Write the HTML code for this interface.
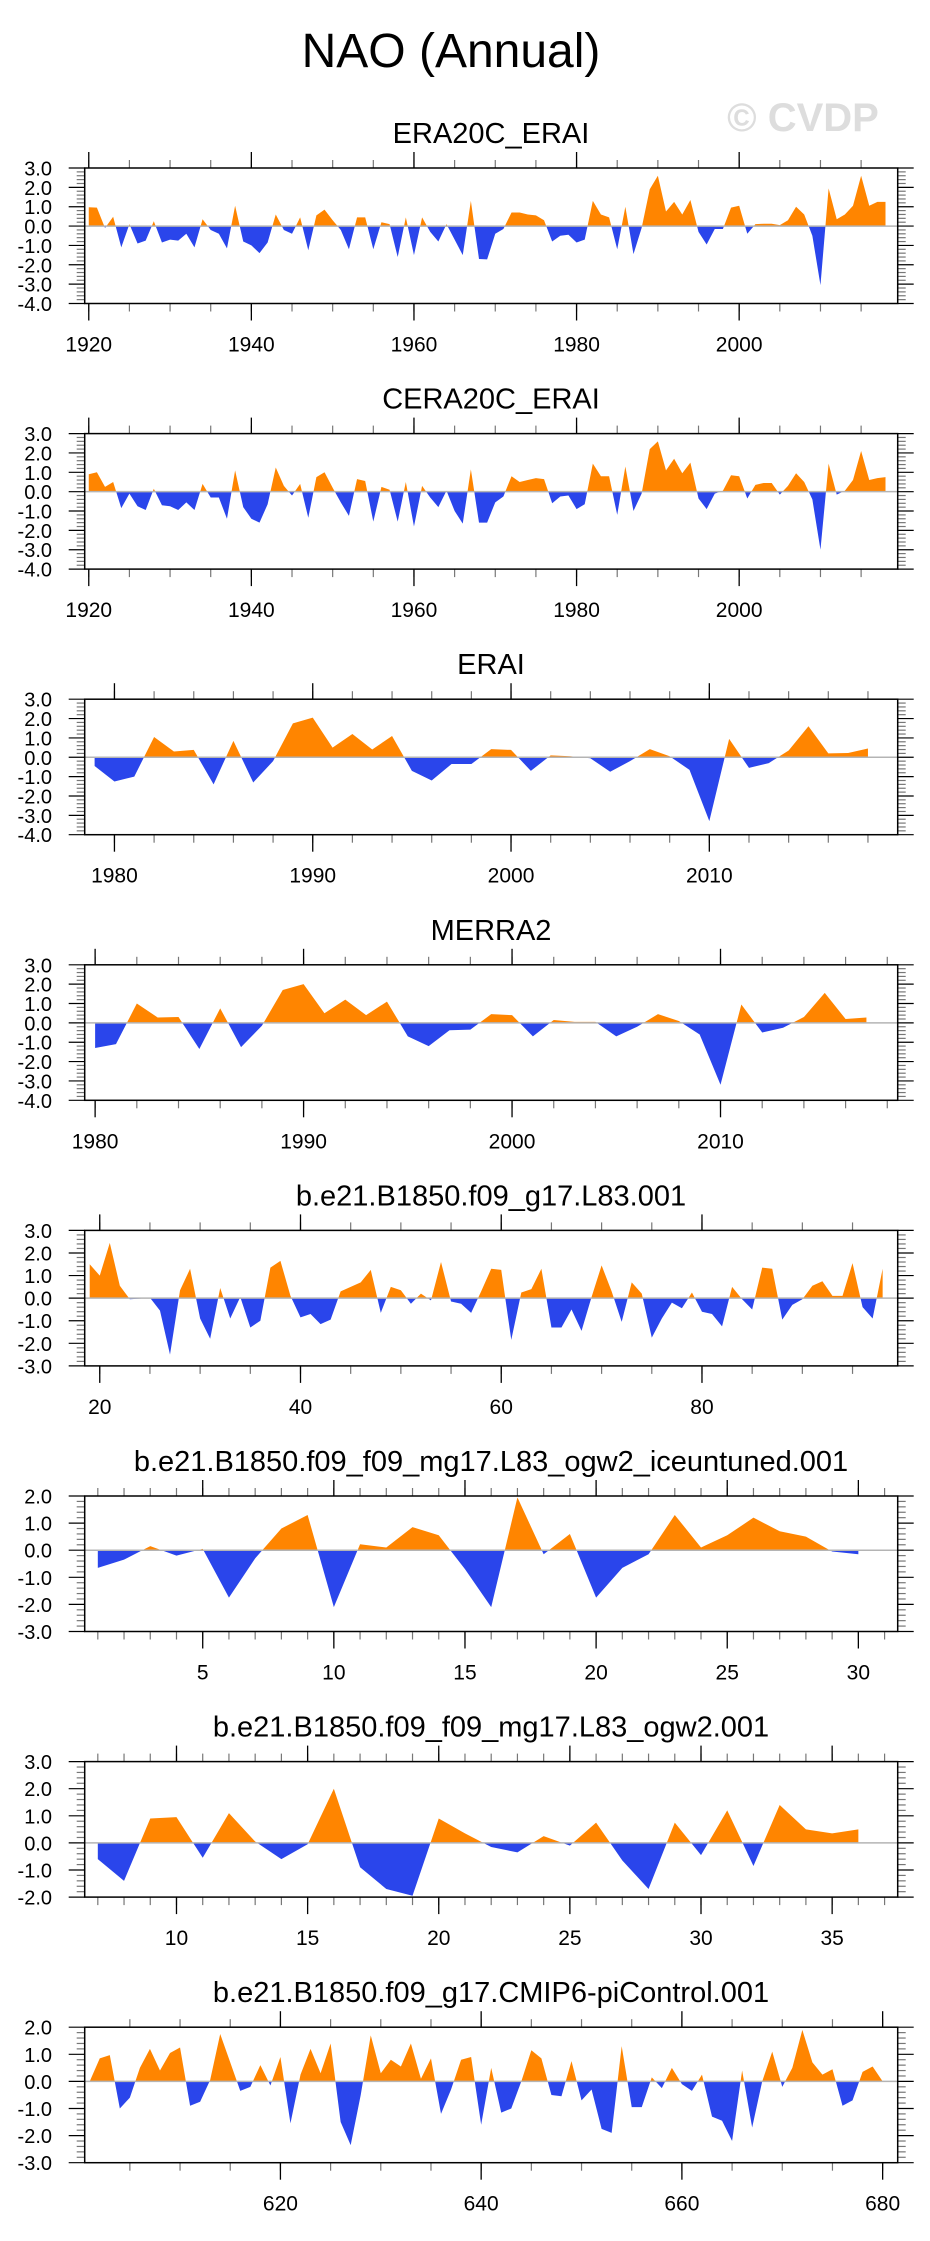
<!DOCTYPE html>
<html>
<head>
<meta charset="utf-8">
<style>
  html,body{margin:0;padding:0;background:#fff;}
  body{width:930px;height:2241px;overflow:hidden;}
  svg{display:block;}
  text{font-family:"Liberation Sans", Arial, sans-serif;}
</style>
</head>
<body>
<svg id="chart" width="930" height="2241" viewBox="0 0 930 2241" xmlns="http://www.w3.org/2000/svg">
  <text x="451" y="67" font-size="48" text-anchor="middle" fill="#000">NAO (Annual)</text>
  <text x="803" y="131" font-size="40" font-weight="bold" text-anchor="middle" fill="#dddddd">© CVDP</text>
</svg>
<script>
// ---- data ----
const panelTitles = ["ERA20C_ERAI","CERA20C_ERAI","ERAI","MERRA2","b.e21.B1850.f09_g17.L83.001","b.e21.B1850.f09_f09_mg17.L83_ogw2_iceuntuned.001","b.e21.B1850.f09_f09_mg17.L83_ogw2.001","b.e21.B1850.f09_g17.CMIP6-piControl.001"];
const panelStarts = [1920,1920,1979,1980,19,1,7,601];
const era20cValues = [0.97,0.95,-0.1,0.48,-1.1,0.1,-0.9,-0.75,0.25,-0.85,-0.7,-0.75,-0.4,-1.1,0.35,-0.2,-0.4,-1.15,1.05,-0.8,-1.0,-1.4,-0.85,0.6,-0.2,-0.4,0.45,-1.25,0.55,0.85,0.3,-0.2,-1.2,0.45,0.45,-1.2,0.2,0.1,-1.6,0.45,-1.5,0.45,-0.3,-0.8,0.1,-0.7,-1.5,1.3,-1.7,-1.72,-0.4,-0.15,0.7,0.7,0.6,0.55,0.3,-0.8,-0.5,-0.45,-0.85,-0.7,1.3,0.6,0.45,-1.2,1.0,-1.45,-0.1,1.9,2.6,0.75,1.25,0.6,1.35,-0.3,-0.95,-0.15,-0.15,0.95,1.05,-0.4,0.1,0.12,0.12,0.05,0.3,1.0,0.6,-0.5,-3.05,1.95,0.35,0.6,1.05,2.6,1.05,1.25,1.25];
const cera20cValues = [0.9,1.0,0.25,0.5,-0.85,-0.1,-0.75,-0.95,0.15,-0.7,-0.75,-0.95,-0.55,-0.95,0.4,-0.3,-0.3,-1.4,1.1,-0.8,-1.4,-1.6,-0.65,1.25,0.3,-0.2,0.4,-1.35,0.75,1.0,0.2,-0.55,-1.25,0.65,0.55,-1.55,0.25,0.1,-1.55,0.5,-1.8,0.3,-0.3,-0.8,0.05,-1.0,-1.65,1.15,-1.6,-1.6,-0.55,-0.25,0.8,0.5,0.6,0.7,0.65,-0.6,-0.25,-0.2,-0.9,-0.65,1.45,0.8,0.8,-1.2,1.3,-1.0,-0.1,2.2,2.6,1.1,1.7,0.95,1.5,-0.35,-0.9,-0.1,0.05,0.85,0.8,-0.35,0.35,0.45,0.45,-0.15,0.3,0.95,0.5,-0.4,-3.0,1.45,-0.15,0.05,0.6,2.1,0.6,0.7,0.75];
const eraiValues = [-0.45,-1.25,-1.0,1.05,0.3,0.38,-1.4,0.85,-1.3,-0.2,1.75,2.05,0.5,1.2,0.4,1.1,-0.7,-1.2,-0.35,-0.35,0.42,0.38,-0.7,0.1,0.05,-0.05,-0.75,-0.2,0.42,0.05,-0.65,-3.3,0.95,-0.55,-0.3,0.35,1.6,0.2,0.22,0.45];
const merra2Values = [-1.3,-1.1,1.0,0.28,0.3,-1.35,0.75,-1.25,-0.15,1.7,2.0,0.5,1.2,0.4,1.1,-0.7,-1.2,-0.38,-0.35,0.45,0.4,-0.7,0.15,0.05,0.05,-0.7,-0.2,0.45,0.1,-0.6,-3.2,0.95,-0.5,-0.25,0.3,1.55,0.2,0.28];
const l83Values = [1.5,1.0,2.45,0.55,-0.05,-0.02,0.02,-0.55,-2.5,0.35,1.3,-0.9,-1.8,0.45,-0.9,0.05,-1.3,-1.0,1.35,1.65,0.1,-0.85,-0.7,-1.15,-0.95,0.3,0.5,0.7,1.25,-0.65,0.5,0.35,-0.25,0.2,-0.1,1.6,-0.15,-0.25,-0.65,0.3,1.3,1.25,-1.85,0.25,0.4,1.3,-1.3,-1.3,-0.5,-1.45,0.05,1.45,0.3,-1.05,0.7,0.2,-1.75,-0.9,-0.2,-0.45,0.25,-0.6,-0.7,-1.25,0.5,-0.05,-0.5,1.35,1.3,-0.95,-0.3,-0.05,0.55,0.75,0.1,0.1,1.55,-0.4,-0.9,1.3];
const iceuntunedValues = [-0.65,-0.35,0.15,-0.2,0.05,-1.75,-0.3,0.8,1.3,-2.1,0.22,0.1,0.85,0.55,-0.7,-2.1,1.95,-0.15,0.6,-1.75,-0.65,-0.15,1.3,0.1,0.55,1.2,0.7,0.5,-0.05,-0.15];
const ogw2Values = [-0.6,-1.4,0.9,0.95,-0.55,1.1,0.05,-0.6,-0.05,2.0,-0.9,-1.7,-1.95,0.9,0.35,-0.15,-0.35,0.25,-0.1,0.75,-0.65,-1.7,0.75,-0.45,1.2,-0.85,1.4,0.5,0.35,0.5];
const piControlValues = [0.0,0.85,0.97,-1.0,-0.6,0.5,1.2,0.4,1.05,1.25,-0.9,-0.75,0.05,1.75,0.7,-0.35,-0.2,0.6,-0.15,0.9,-1.55,0.25,1.2,0.3,1.4,-1.5,-2.35,-0.5,1.7,0.3,0.8,0.55,1.4,0.1,0.85,-1.2,-0.3,0.8,0.9,-1.6,0.5,-1.15,-1.0,0.0,1.15,0.85,-0.5,-0.55,0.75,-0.7,-0.3,-1.75,-1.9,1.3,-0.95,-0.95,0.15,-0.25,0.5,-0.1,-0.35,0.25,-1.3,-1.45,-2.2,0.4,-1.7,0.0,1.1,-0.2,0.5,1.9,0.7,0.25,0.45,-0.9,-0.7,0.35,0.55,0.0];
const era20cTickLabels = [1920,1940,1960,1980,2000];
const eraiTickLabels = [1980,1990,2000,2010];
const l83TickLabels = [20,40,60,80];
const iceuntunedTickLabels = [5,10,15,20,25,30];
const ogw2TickLabels = [10,15,20,25,30,35];
const piControlTickLabels = [620,640,660,680];
const yRangesMax = [3,3,3,3,3,2,3,2];
const yRangesMin = [-4,-4,-4,-4,-3,-3,-2,-3];

// ---- layout (not data) ----
const allValues = [era20cValues,cera20cValues,eraiValues,merra2Values,l83Values,iceuntunedValues,ogw2Values,piControlValues];
const allTicks = [era20cTickLabels,era20cTickLabels,eraiTickLabels,eraiTickLabels,l83TickLabels,iceuntunedTickLabels,ogw2TickLabels,piControlTickLabels];
const xPad = [[0.5,1.5],[0.5,1.5],[0.5,1.5],[0.5,1.5],[0.5,1.5],[0.5,1.5],[0.5,1.5],[0.5,1.5]];
const minorSpec = [[1920,2015,5],[1920,2015,5],[1980,2018,2],[1980,2018,2],[20,95,5],[1,31,1],[7,37,1],[605,680,5]];
const FL = 84.7, FR = 897.7, FH = 135.5, TOP0 = 168, STEP = 265.6;
const ORANGE = "#ff8500", BLUE = "#2a45eb";
const NS = "http://www.w3.org/2000/svg";
const svg = document.getElementById("chart");

function mk(tag, attrs, parent){
  const e = document.createElementNS(NS, tag);
  for (const k in attrs) e.setAttribute(k, attrs[k]);
  (parent||svg).appendChild(e);
  return e;
}

for (let p = 0; p < 8; p++) {
  const vals = allValues[p];
  const start = panelStarts[p];
  const xmin = start - xPad[p][0];
  const xmax = start + vals.length - 1 + xPad[p][1];
  const ymax = yRangesMax[p], ymin = yRangesMin[p];
  const top = TOP0 + p*STEP, bot = top + FH;
  const sx = v => FL + (v - xmin) / (xmax - xmin) * (FR - FL);
  const sy = v => top + (ymax - v) / (ymax - ymin) * FH;

  const g = mk("g", {});
  
  

  const t = mk("text", {x: 491, y: top - 25, "font-size": 29, "text-anchor": "middle", fill: "#000"}, g);
  
  
  t.textContent = panelTitles[p];

  const y0 = sy(0);
  const defs = mk("defs", {}, g);
  const cpA = mk("clipPath", {id: "above" + p}, defs);
  mk("rect", {x: FL, y: top, width: FR-FL, height: y0-top}, cpA);
  const cpB = mk("clipPath", {id: "below" + p}, defs);
  mk("rect", {x: FL, y: y0, width: FR-FL, height: bot-y0}, cpB);

  let pts = sx(start).toFixed(2) + "," + y0.toFixed(2);
  for (let i = 0; i < vals.length; i++) {
    pts += " " + sx(start+i).toFixed(2) + "," + sy(vals[i]).toFixed(2);
  }
  pts += " " + sx(start+vals.length-1).toFixed(2) + "," + y0.toFixed(2);

  const pos = mk("polygon", {points: pts, fill: ORANGE, "clip-path": "url(#above"+p+")"}, g);
  
  
  const neg = mk("polygon", {points: pts, fill: BLUE, "clip-path": "url(#below"+p+")"}, g);
  
  

  const zl = mk("line", {x1: FL, x2: FR, y1: y0, y2: y0, stroke: "#b4b4b4", "stroke-width": 1.5}, g);
  
  

  for (let k = 0; k <= Math.round((ymax-ymin)/0.2); k++) {
    const v = ymin + k*0.2;
    const yy = sy(v);
    const major = Math.abs(v - Math.round(v)) < 1e-6;
    const len = major ? 16 : 8;
    const col = major ? "#000" : "#777";
    mk("line", {x1: FL-len, x2: FL, y1: yy, y2: yy, stroke: col, "stroke-width": 1.2}, g);
    mk("line", {x1: FR, x2: FR+len, y1: yy, y2: yy, stroke: col, "stroke-width": 1.2}, g);
    if (major) {
      const yl = mk("text", {x: 52, y: yy + 7.5, "font-size": 20, "text-anchor": "end", fill: "#000"}, g);
      
      
      yl.textContent = Math.round(v).toFixed(1);
    }
  }
  const ms = minorSpec[p];
  for (let v = ms[0]; v <= ms[1] + 1e-9; v += ms[2]) {
    const xx = sx(v);
    mk("line", {x1: xx, x2: xx, y1: top-8, y2: top, stroke: "#777", "stroke-width": 1.2}, g);
    mk("line", {x1: xx, x2: xx, y1: bot, y2: bot+8, stroke: "#777", "stroke-width": 1.2}, g);
  }
  const ticks = allTicks[p];
  for (let i = 0; i < ticks.length; i++) {
    const xx = sx(ticks[i]);
    mk("line", {x1: xx, x2: xx, y1: top-16, y2: top, stroke: "#000", "stroke-width": 1.3}, g);
    mk("line", {x1: xx, x2: xx, y1: bot, y2: bot+17, stroke: "#000", "stroke-width": 1.3}, g);
    const xl = mk("text", {x: xx, y: bot + 48, "font-size": 21, "text-anchor": "middle", fill: "#000"}, g);
    
    
    xl.textContent = ticks[i];
  }
  const fr = mk("rect", {x: FL, y: top, width: FR-FL, height: FH, fill: "none", stroke: "#000", "stroke-width": 1.5}, g);
  
  
}
</script>
</body>
</html>
